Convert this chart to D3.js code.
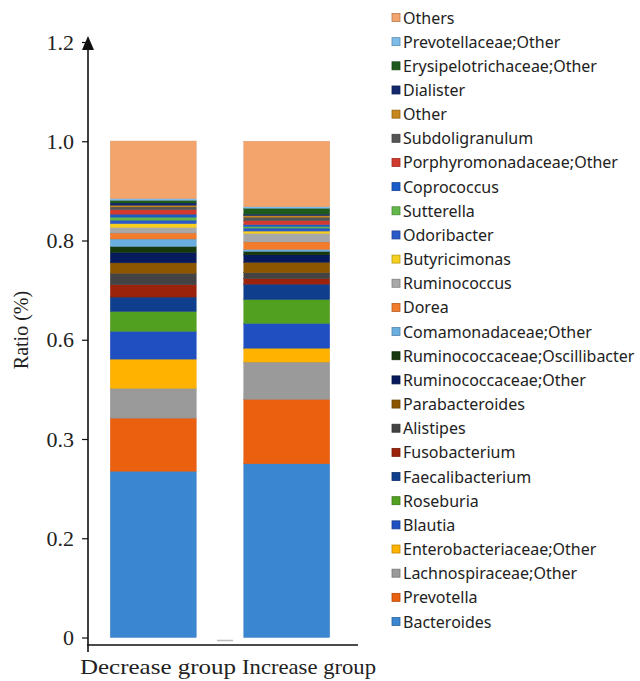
<!DOCTYPE html>
<html>
<head>
<meta charset="utf-8">
<script src="https://cdn.jsdelivr.net/npm/d3@7/dist/d3.min.js"></script>
<style>
  html, body { margin: 0; padding: 0; background: #fff; }
  svg { display: block; }
</style>
</head>
<body>
<svg id="chart" width="640" height="681"></svg>
<script>
// Groups on the x axis
const groups = ["Decrease group", "Increase group"];

// Taxa, stacked from the bottom of each bar upward
const taxa = [
  "Bacteroides", "Prevotella", "Lachnospiraceae;Other", "Enterobacteriaceae;Other",
  "Blautia", "Roseburia", "Faecalibacterium", "Fusobacterium", "Alistipes",
  "Parabacteroides", "Ruminococcaceae;Other", "Ruminococcaceae;Oscillibacter",
  "Comamonadaceae;Other", "Dorea", "Ruminococcus", "Butyricimonas", "Odoribacter",
  "Sutterella", "Coprococcus", "Porphyromonadaceae;Other", "Subdoligranulum",
  "Other", "Dialister", "Erysipelotrichaceae;Other", "Prevotellaceae;Other", "Others"
];

// Relative abundance per taxon, same order as taxa
const decreaseValues = [
  0.335, 0.107, 0.060, 0.059, 0.056, 0.040, 0.029, 0.025, 0.023,
  0.021, 0.021, 0.012, 0.015, 0.012, 0.011, 0.008, 0.007,
  0.006, 0.006, 0.009, 0.0056, 0.0034, 0.0046, 0.0054, 0.0034, 0.116
];
const increaseValues = [
  0.350, 0.130, 0.075, 0.028, 0.050, 0.048, 0.031, 0.011, 0.012,
  0.021, 0.015, 0.007, 0.004, 0.015, 0.017, 0.005, 0.006,
  0.003, 0.004, 0.008, 0.007, 0.003, 0.003, 0.012, 0.003, 0.132
];

// Fill colour per taxon, same order as taxa
const taxonColors = [
  "#3a86d0", "#ea600e", "#9a9a9a", "#ffb300",
  "#1f4fc0", "#52a020", "#0f3f8c", "#9b230c", "#434343",
  "#8c5600", "#061a5c", "#16380c",
  "#6aaee0", "#f27c2c", "#a8a8a8", "#f6cf20", "#2a5ac8",
  "#62b84a", "#1a5cc8", "#d13a2c", "#555555",
  "#c8871a", "#14286e", "#1e5a1e", "#7dbbe8", "#f2a46c"
];

// Y axis ticks and the labels printed beside them
const yTickValues = [0, 0.2, 0.4, 0.6, 0.8, 1.0, 1.2];
const yTickLabels = ["0", "0.2", "0.3", "0.6", "0.8", "1.0", "1.2"];

const serif = "Liberation Serif, Times New Roman, serif";
const svg = d3.select("#chart");

const y = d3.scaleLinear().domain([0, 1.2]).range([637.5, 42]);
const x = d3.scaleBand().domain(groups).range([88, 352])
  .paddingInner(0.356).paddingOuter(0.167);

const valuesByGroup = { "Decrease group": decreaseValues, "Increase group": increaseValues };
const rows = groups.map(g => {
  const row = { group: g };
  taxa.forEach((t, i) => { row[t] = valuesByGroup[g][i]; });
  return row;
});
const series = d3.stack().keys(taxa)(rows);
const color = d3.scaleOrdinal().domain(taxa).range(taxonColors);

// Stacked bars
svg.append("g")
  .selectAll("g")
  .data(series)
  .join("g")
  .attr("fill", d => color(d.key))
  .selectAll("rect")
  .data(d => d.map(p => ({ p, key: d.key })))
  .join("rect")
  .attr("x", d => x(d.p.data.group))
  .attr("width", x.bandwidth())
  .attr("y", d => y(d.p[1]))
  .attr("height", d => y(d.p[0]) - y(d.p[1]))
  .attr("stroke", d => d3.color(color(d.key)).darker(0.3))
  .attr("stroke-width", 0.4);

// Y axis with arrow head
const yAxis = d3.axisLeft(y)
  .tickValues(yTickValues)
  .tickFormat((d, i) => yTickLabels[i])
  .tickSize(6)
  .tickSizeOuter(0);
const gy = svg.append("g").attr("transform", "translate(88,0)").call(yAxis);
gy.select(".domain").remove();
gy.selectAll(".tick line").attr("stroke", "#111").attr("stroke-width", 1.2);
gy.selectAll(".tick text")
  .attr("x", -14)
  .attr("font-family", serif)
  .attr("font-size", 22)
  .attr("fill", "#222");

svg.append("line")
  .attr("x1", 88).attr("x2", 88)
  .attr("y1", y(1.2) + 4).attr("y2", 652)
  .attr("stroke", "#111").attr("stroke-width", 1.6);
svg.append("path")
  .attr("d", d3.line()([[82, y(1.2) + 8], [88, y(1.2) - 6], [94, y(1.2) + 8]]) + "Z")
  .attr("fill", "#111");

// X axis baseline
svg.append("line")
  .attr("x1", 87).attr("x2", 358)
  .attr("y1", 645).attr("y2", 645)
  .attr("stroke", "#111").attr("stroke-width", 1.4);
svg.append("line")
  .attr("x1", 217).attr("x2", 233)
  .attr("y1", 640.5).attr("y2", 640.5)
  .attr("stroke", "#bbb").attr("stroke-width", 1.5);

// Group labels, written as one run under the two bars
const labelX = [80, 242];
const labelW = [156, 134];
svg.append("g")
  .selectAll("text")
  .data(groups)
  .join("text")
  .attr("x", (d, i) => labelX[i])
  .attr("y", 674)
  .attr("font-family", serif)
  .attr("font-size", 21)
  .attr("fill", "#222")
  .attr("textLength", (d, i) => labelW[i])
  .attr("lengthAdjust", "spacingAndGlyphs")
  .text(d => d);

// Y axis title
svg.append("text")
  .attr("transform", "translate(28,330) rotate(-90)")
  .attr("text-anchor", "middle")
  .attr("font-family", serif)
  .attr("font-size", 20)
  .attr("fill", "#222")
  .text("Ratio (%)");

// Legend, top item is the top of the stack
const legendOrder = taxa.slice().reverse();
const ly = d3.scalePoint().domain(legendOrder).range([18, 622]);
const legend = svg.append("g")
  .selectAll("g")
  .data(legendOrder)
  .join("g")
  .attr("transform", d => `translate(392,${ly(d)})`);
legend.append("rect")
  .attr("x", 0).attr("y", -4.5)
  .attr("width", 8).attr("height", 8)
  .attr("fill", d => color(d))
  .attr("stroke", d => d3.color(color(d)).darker(0.8))
  .attr("stroke-width", 0.8);
legend.append("text")
  .attr("x", 11)
  .attr("y", 5.5)
  .attr("font-family", "Noto Sans, Open Sans, sans-serif")
  .attr("font-size", 16)
  .attr("fill", "#222")
  .text(d => d);
</script>
</body>
</html>
